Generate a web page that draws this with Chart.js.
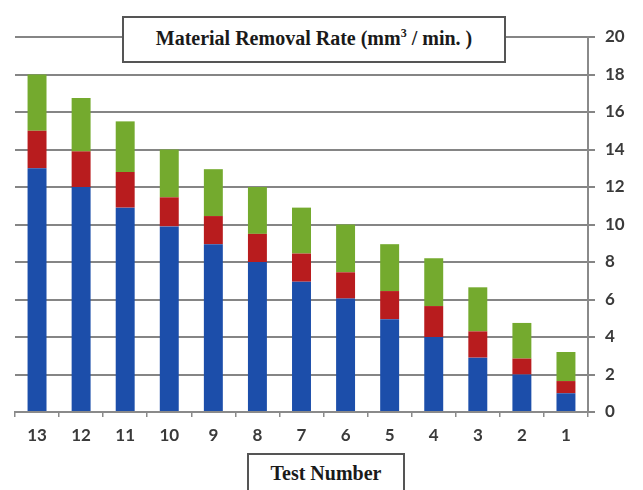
<!DOCTYPE html>
<html>
<head>
<meta charset="utf-8">
<script src="https://cdn.jsdelivr.net/npm/chart.js@4/dist/chart.umd.min.js"></script>
<style>
  html, body { margin: 0; padding: 0; background: #ffffff; }
  #wrap { position: relative; width: 643px; height: 490px; overflow: hidden; }
  canvas { position: absolute; left: 0; top: 0; }
  .box { position: absolute; background: #ffffff; border: 2px solid #555555; box-sizing: border-box;
         font-family: "Liberation Serif", "Times New Roman", serif; font-weight: bold; color: #1a1a1a;
         text-align: center; white-space: nowrap; }
  #title { left: 122px; top: 16px; width: 384px; height: 47px; font-size: 20px; line-height: 41px; }
  #xtitle { left: 247px; top: 453px; width: 158px; height: 50px; font-size: 20px; line-height: 36px; }
  sup { font-size: 12px; vertical-align: 8px; line-height: 0; }
</style>
</head>
<body>
<div id="wrap">
  <canvas id="c" width="643" height="490"></canvas>
  <div class="box" id="title">Material Removal Rate (mm<sup>3</sup> / min. )</div>
  <div class="box" id="xtitle">Test Number</div>
</div>
<script>
const categories = ["13", "12", "11", "10", "9", "8", "7", "6", "5", "4", "3", "2", "1"];
const blueValues  = [13, 12, 10.9, 9.9, 8.95, 8, 6.95, 6.05, 4.95, 4.0, 2.9, 2.0, 1.0];
const redValues   = [2, 1.9, 1.9, 1.55, 1.5, 1.5, 1.5, 1.4, 1.5, 1.65, 1.4, 0.85, 0.65];
const greenValues = [3, 2.85, 2.7, 2.55, 2.5, 2.5, 2.45, 2.55, 2.5, 2.55, 2.35, 1.9, 1.55];
const yTicks = [0, 2, 4, 6, 8, 10, 12, 14, 16, 18, 20];

const tickFont = { family: "Lato, 'Open Sans', sans-serif", size: 17, weight: "bold" };

new Chart(document.getElementById("c"), {
  type: "bar",
  data: {
    labels: categories,
    datasets: [
      { label: "A", data: blueValues,  backgroundColor: "#1c4eaa" },
      { label: "B", data: redValues,   backgroundColor: "#b81c1e" },
      { label: "C", data: greenValues, backgroundColor: "#74aa2e" }
    ]
  },
  options: {
    responsive: false,
    devicePixelRatio: 1,
    animation: false,
    layout: { padding: { left: 15, right: 0, top: 37, bottom: 38 } },
    plugins: { legend: { display: false }, tooltip: { enabled: false }, title: { display: false } },
    datasets: { bar: { categoryPercentage: 1, barPercentage: 0.43 } },
    scales: {
      x: {
        stacked: true,
        grid: { drawOnChartArea: false, drawTicks: true, tickLength: 5, color: "#8a8a8a", lineWidth: 1.5, offset: true },
        border: { display: true, color: "#8a8a8a", width: 2 },
        ticks: { color: "#3a3a3a", font: tickFont, padding: 8, maxRotation: 0 },
        afterFit: (s) => { s.height = 40; }
      },
      y: {
        stacked: true,
        position: "right",
        min: 0, max: 20,
        afterBuildTicks: (s) => { s.ticks = yTicks.map(v => ({ value: v })); },
        grid: { color: "#858585", lineWidth: 2, drawTicks: true, tickLength: 7 },
        border: { display: true, color: "#8a8a8a", width: 2 },
        ticks: { color: "#3a3a3a", font: tickFont, padding: 10 },
        afterFit: (s) => { s.width = 55; }
      }
    }
  }
});
</script>
</body>
</html>
